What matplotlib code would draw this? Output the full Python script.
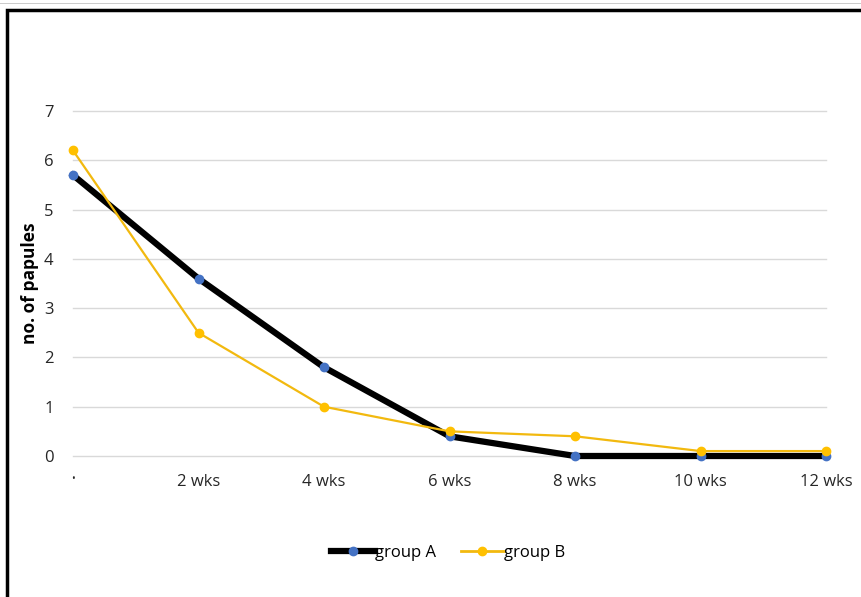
import matplotlib.pyplot as plt
from matplotlib.patches import Rectangle
from matplotlib.lines import Line2D

plt.rcParams['font.family'] = ['Open Sans', 'DejaVu Sans']

# weeks of treatment and mean papule counts per group
weeks = ['\u2022', '2 wks', '4 wks', '6 wks', '8 wks', '10 wks', '12 wks']
group_a = [5.7, 3.6, 1.8, 0.4, 0.0, 0.0, 0.0]
group_b = [6.2, 2.5, 1.0, 0.5, 0.4, 0.1, 0.1]
yticks = [0, 1, 2, 3, 4, 5, 6, 7]

fig = plt.figure(figsize=(8.62, 5.97), dpi=100)
ax = fig.add_axes([73/862, 1 - 456/597, (826 - 73)/862, (456 - 111)/597])

x = list(range(len(weeks)))
ax.plot(x, group_a, color='black', lw=4.5, marker='o', ms=6,
        mfc='#4472C4', mec='#4472C4', clip_on=False, zorder=3, label='group A')
ax.plot(x, group_b, color='#F2B90F', lw=1.6, marker='o', ms=6,
        mfc='#FFC000', mec='#FFC000', clip_on=False, zorder=4, label='group B')

ax.set_xlim(0, 6)
ax.set_ylim(0, 7)
ax.set_yticks(yticks)
ax.set_xticks(x)
ax.set_xticklabels(weeks)
ax.grid(axis='y', color='#d9d9d9', lw=1, clip_on=False)
ax.set_axisbelow(True)
for s in ax.spines.values():
    s.set_visible(False)
ax.tick_params(axis='both', length=0, labelsize=12, labelcolor='#262626')
ax.tick_params(axis='x', pad=13)
ax.tick_params(axis='y', pad=14)
ax.get_xticklabels()[0].set_fontsize(7)
ax.set_ylabel('no. of papules', fontsize=12.5, fontweight='bold')
ax.yaxis.set_label_coords(-0.045, 0.5)

handles = [
    Line2D([], [], color='black', lw=4.5, marker='o', ms=6, mfc='#4472C4', mec='#4472C4'),
    Line2D([], [], color='#F2B90F', lw=2, marker='o', ms=6, mfc='#FFC000', mec='#FFC000'),
]
fig.legend(handles, ['group A', 'group B'], loc='center', bbox_to_anchor=(0.52, 1 - 553/597),
           ncol=2, frameon=False, fontsize=12, handlelength=2.6, handletextpad=0.0,
           columnspacing=1.5)

# chart frame
fig.patches.append(Rectangle((7/862, -0.05), 1.0, 1 - 10/597 + 0.05,
                             transform=fig.transFigure, fill=False,
                             edgecolor='black', lw=2.5))
fig.patches.append(Rectangle((0, 1 - 4/597), 1.0, 0.001, transform=fig.transFigure,
                             color='#cccccc', lw=0))

fig.savefig('out.png', dpi=100)
